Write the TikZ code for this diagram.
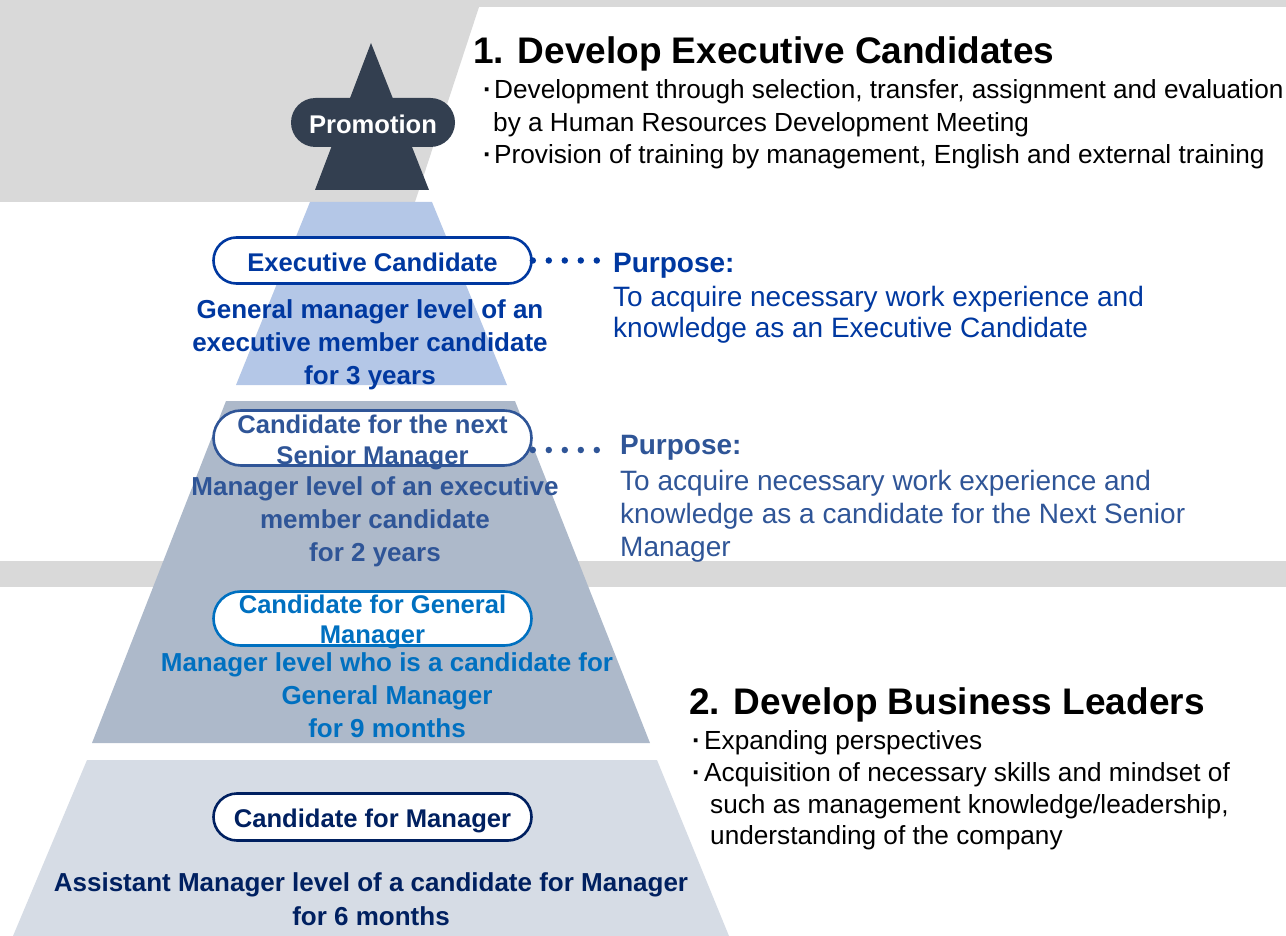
\documentclass[tikz,border=0pt]{standalone}
\usepackage{fontspec}
\setmainfont{Liberation Sans}
\usepackage{tikz}
\usetikzlibrary{shapes.misc,positioning}
\definecolor{bandgray}{RGB}{217,217,217}
\definecolor{promo}{RGB}{51,63,80}
\definecolor{tierA}{RGB}{180,199,231}
\definecolor{tierB}{RGB}{173,185,202}
\definecolor{tierC}{RGB}{214,220,229}
\definecolor{execblue}{RGB}{0,56,160}
\definecolor{seniorblue}{RGB}{47,85,151}
\definecolor{gmblue}{RGB}{0,112,192}
\definecolor{mgrnavy}{RGB}{0,32,96}
\newcommand{\bpoint}[1]{\makebox[#1][l]{\bfseries ·}}
\tikzstyle{pill}=[rounded rectangle,draw,fill=white,line width=2.6pt,minimum width=318pt,inner sep=0pt]
\tikzstyle{pill text}=[align=center,inner sep=0pt,font=\fontsize{25.6}{30.6}\selectfont\bfseries]
\tikzstyle{tier text}=[anchor=north,align=center,inner sep=0pt,font=\fontsize{26}{33}\selectfont\bfseries]
\tikzstyle{heading}=[anchor=base west,inner sep=0pt,font=\fontsize{37}{44}\selectfont\bfseries]
\tikzstyle{notes}=[anchor=north west,inner sep=0pt,align=left,font=\fontsize{26.2}{32.5}\selectfont]
\tikzstyle{purpose}=[anchor=base west,inner sep=0pt,font=\fontsize{28}{32}\selectfont\bfseries]
\tikzstyle{purpose text}=[anchor=north west,inner sep=0pt,align=left,font=\fontsize{28}{32}\selectfont]
\tikzstyle{purpose link}=[line width=6.5pt,line cap=round,dash pattern=on 0pt off 16pt]

\begin{document}
\begin{tikzpicture}[x=1pt,y=-1pt]
  \useasboundingbox (0,0) rectangle (1286,936);
  % grey bands behind the pyramid
  \fill[bandgray] (0,0) -- (1286,0) -- (1286,7) -- (479,7) -- (415,202) -- (0,202) -- cycle;
  \fill[bandgray] (0,561) rectangle (1286,587);
  % pyramid tiers
  \fill[tierA] (310,202) -- (432,202) -- (507,385) -- (236,385) -- cycle;
  \fill[tierB] (226,401) -- (515,401) -- (650,743) -- (92,743) -- cycle;
  \fill[tierC] (87,760) -- (657,760) -- (729,936) -- (13,936) -- cycle;
  % top of the pyramid
  \fill[promo] (371,43) -- (429,190) -- (315,190) -- cycle;
  \node[rounded rectangle,fill=promo,minimum width=164pt,minimum height=49pt,inner sep=0pt,text height=22.3pt,text depth=0pt,text=white,font=\fontsize{25.6}{30}\selectfont\bfseries] (promotion) at (373,122.5) {Promotion};

  % levels
  \node[pill,draw=execblue,minimum height=46pt] (exec) at (372.5,260.5) {};
  \node[pill text,text=execblue] (execname) at ([yshift=-2pt]exec.center) {Executive Candidate};
  \node[tier text,text=execblue] (execdesc) at (370,299) {General manager level of an\\executive member candidate\\for 3 years};
  \node[pill,draw=seniorblue,minimum height=55pt] (senior) at (372.5,438) {};
  \node[pill text,text=seniorblue] (seniorname) at ([yshift=-4.5pt]senior.center) {Candidate for the next\\Senior Manager};
  \node[tier text,text=seniorblue] (seniordesc) at (375,476.4) {Manager level of an executive\\member candidate\\for 2 years};
  \node[pill,draw=gmblue,minimum height=54pt] (gm) at (372.5,618.5) {};
  \node[pill text,text=gmblue] (gmname) at ([yshift=-3.5pt]gm.center) {Candidate for General\\Manager};
  \node[tier text,text=gmblue] (gmdesc) at (387,652.9) {Manager level who is a candidate for\\General Manager\\for 9 months};
  \node[pill,draw=mgrnavy,minimum height=47pt] (mgr) at (372.5,817) {};
  \node[pill text,text=mgrnavy] (mgrname) at ([yshift=-4pt]mgr.center) {Candidate for Manager};
  \node[tier text,text=mgrnavy,font=\fontsize{26}{34}\selectfont\bfseries] (mgrdesc) at (371,872.9) {Assistant Manager level of a candidate for Manager\\for 6 months};

  % the two programmes
  \node[heading] (exectitle) at (473,64) {1. Develop Executive Candidates};
  \node[notes] (execnotes) at (483,79.8) {\bpoint{11pt}Development through selection, transfer, assignment and evaluation\\\hspace*{10pt}by a Human Resources Development Meeting\\\bpoint{11pt}Provision of training by management, English and external training};
  \node[heading] (leadtitle) at (689,714) {2. Develop Business Leaders};
  \node[notes,font=\fontsize{26.2}{31.7}\selectfont] (leadnotes) at (692,730.7) {\bpoint{12pt}Expanding perspectives\\\bpoint{12pt}Acquisition of necessary skills and mindset of\\\hspace*{18pt}such as management knowledge/leadership,\\\hspace*{18pt}understanding of the company};

  % purposes
  \node[purpose,text=execblue] (purp1) at (613,273) {Purpose:};
  \node[purpose text,text=execblue,below=6.5pt of purp1.south west,anchor=north west] (purp1txt) {To acquire necessary work experience and\\knowledge as an Executive Candidate};
  \node[purpose,text=seniorblue] (purp2) at (620,454) {Purpose:};
  \node[purpose text,text=seniorblue,font=\fontsize{28}{33}\selectfont,below=10pt of purp2.south west,anchor=north west] (purp2txt) {To acquire necessary work experience and\\knowledge as a candidate for the Next Senior\\Manager};

  \coordinate (seniorport) at ([yshift=-12pt]senior.east);
  \draw[purpose link,execblue,shorten >=15.5pt] (exec.east) -- (exec.east -| purp1.west);
  \draw[purpose link,seniorblue,shorten >=22.5pt] (seniorport) -- (seniorport -| purp2.west);
\end{tikzpicture}
\end{document}
